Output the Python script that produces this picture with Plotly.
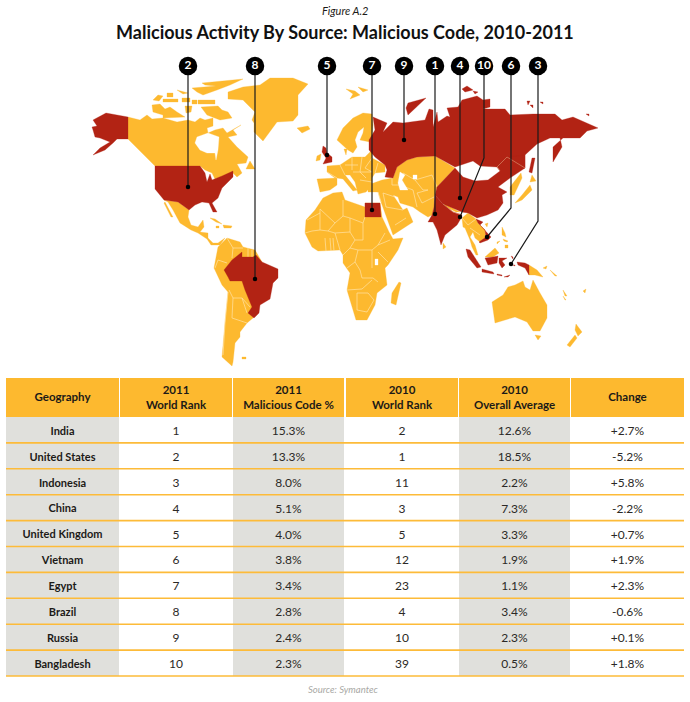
#!/usr/bin/env python3
"""Malicious activity by source: world map with numbered callouts over a ranking table."""

import plotly.graph_objects as go

# table data
GEOGRAPHY = ["India", "United States", "Indonesia", "China", "United Kingdom",
             "Vietnam", "Egypt", "Brazil", "Russia", "Bangladesh"]
RANK_2011 = ["1", "2", "3", "4", "5", "6", "7", "8", "9", "10"]
CODE_2011 = ["15.3%", "13.3%", "8.0%", "5.1%", "4.0%", "3.8%", "3.4%", "2.8%", "2.4%", "2.3%"]
RANK_2010 = ["2", "1", "11", "3", "5", "12", "23", "4", "10", "39"]
AVG_2010 = ["12.6%", "18.5%", "2.2%", "7.3%", "3.3%", "1.9%", "1.1%", "3.4%", "2.3%", "0.5%"]
CHANGE = ["+2.7%", "-5.2%", "+5.8%", "-2.2%", "+0.7%", "+1.9%", "+2.3%", "-0.6%", "+0.1%", "+1.8%"]
HEADERS = ["Geography", "2011<br>World Rank", "2011<br>Malicious Code %",
           "2010<br>World Rank", "2010<br>Overall Average", "Change"]

# callouts: label, then the path of the leader line
CALLOUT_LABELS = ["2", "8", "5", "7", "9", "1", "4", "10", "6", "3"]
CALLOUT_X = [[188, 188], [255, 255], [327, 327], [372, 372], [404, 404],
             [435, 435], [460, 460], [484, 484, 460], [511, 511, 487], [538, 538, 511]]
CALLOUT_Y = [[66, 187], [66, 279], [66, 155], [66, 210], [66, 140],
             [66, 214], [66, 198], [66, 158, 217], [66, 208, 237], [66, 221, 264]]

# map outlines, picture units
ALASKA = [(106, 113), (128, 117), (128, 139), (117, 139), (113, 143), (105, 150), (93, 155), (100, 148),
          (110, 142), (100, 138), (95, 137), (93, 130), (92, 127), (97, 126), (93, 120)]
CANADA = [(128, 117), (140, 120), (147, 115), (152, 119), (163, 118), (177, 122), (188, 120), (195, 122),
          (200, 118), (205, 120), (213, 118), (213, 126), (207, 128), (208, 133), (215, 130), (223, 128),
          (227, 133), (241, 125), (233, 130), (237, 135), (228, 137), (237, 147), (248, 157), (246, 163),
          (237, 164), (242, 173), (237, 177), (232, 172), (227, 175), (215, 179), (212, 173), (205, 170),
          (200, 166), (155, 166), (128, 139)]
HUDSON_BAY = [(197, 137), (208, 133), (219, 137), (218, 150), (216, 160), (215, 153), (207, 153), (200, 150), (195, 143)]
NEWFOUNDLAND = [(250, 161), (255, 169), (246, 169)]
ARCTIC_1 = [(153, 100), (158, 95), (163, 96), (159, 101)]
ARCTIC_2 = [(167, 93), (173, 93), (173, 97), (167, 97)]
ARCTIC_3 = [(163, 99), (178, 99), (178, 102), (163, 102)]
ARCTIC_4 = [(182, 98), (190, 98), (190, 102), (182, 102)]
ARCTIC_5 = [(192, 100), (197, 100), (197, 104), (192, 104)]
ARCTIC_6 = [(198, 100), (215, 100), (215, 104), (198, 104)]
ELLESMERE = [(202, 83), (243, 79), (230, 85), (217, 90), (203, 95), (197, 92), (192, 88), (216, 86), (205, 85)]
ARCTIC_7 = [(177, 90), (188, 93), (183, 94)]
VICTORIA = [(152, 105), (160, 104), (165, 109), (170, 107), (177, 112), (185, 117), (163, 118), (163, 115), (153, 112)]
ARCTIC_8 = [(185, 106), (192, 106), (191, 112), (186, 113)]
BAFFIN = [(201, 107), (218, 106), (222, 110), (228, 112), (232, 118), (220, 120), (207, 115)]
GREENLAND = [(270, 78), (293, 78), (308, 84), (298, 95), (298, 115), (293, 121), (277, 122), (263, 141),
             (254, 132), (254, 123), (252, 120), (255, 112), (243, 100), (228, 99), (228, 92), (243, 87), (260, 85)]
ICELAND = [(297, 128), (308, 126), (310, 129), (302, 133)]
UK = [(323, 146), (326, 148), (327, 153), (332, 157), (332, 162), (323, 164), (326, 158), (322, 152)]
IRELAND = [(317, 156), (321, 154), (320, 160), (316, 161)]
USA = [(155, 166), (200, 166), (205, 173), (207, 182), (210, 174), (212, 180), (222, 176), (233, 171), (233, 177),
       (222, 188), (218, 198), (212, 203), (217, 212), (213, 212), (209, 203), (202, 202), (195, 205), (189, 210),
       (185, 207), (178, 202), (164, 200), (155, 189)]
MEXICO = [(164, 200), (178, 202), (185, 207), (189, 210), (188, 217), (191, 225), (198, 227), (203, 220), (204, 227),
          (200, 232), (208, 233), (208, 238), (213, 243), (218, 243), (225, 238), (220, 245), (211, 245), (207, 239),
          (198, 233), (191, 230), (180, 223), (173, 210), (168, 202)]
BAJA = [(165, 202), (173, 217), (171, 217), (164, 203)]
CUBA = [(210, 218), (215, 219), (222, 224), (216, 222)]
HISPANIOLA = [(223, 225), (232, 226), (231, 228), (224, 228)]
JAMAICA = [(216, 226), (219, 226), (219, 228), (216, 228)]
SOUTH_AMERICA = [(227, 238), (240, 242), (243, 247), (255, 250), (262, 262), (262, 300), (253, 318), (247, 323),
                 (240, 332), (240, 337), (235, 343), (233, 362), (232, 366), (222, 357), (225, 323), (228, 292),
                 (222, 285), (214, 268), (218, 247)]
BRAZIL = [(242, 252), (242, 257), (253, 257), (256, 255), (262, 262), (278, 269), (278, 278), (273, 283), (270, 299),
          (260, 305), (259, 313), (254, 318), (248, 313), (252, 307), (245, 290), (242, 281), (230, 281), (228, 277),
          (224, 270), (232, 260)]
FALKLANDS = [(242, 357), (246, 357), (246, 359), (242, 359)]
AFRICA = [(342, 192), (345, 200), (365, 207), (365, 203), (380, 203), (382, 217), (389, 232), (393, 239), (403, 238),
          (398, 250), (388, 265), (385, 268), (387, 285), (377, 293), (375, 305), (367, 320), (356, 320), (347, 290),
          (350, 273), (343, 263), (343, 255), (340, 250), (318, 251), (312, 247), (305, 233), (306, 220), (315, 210),
          (323, 198), (333, 193)]
EGYPT = [(365, 203), (380, 203), (381, 217), (365, 217)]
LAKE_VICTORIA = [(375, 259), (378, 259), (378, 265), (375, 265)]
MADAGASCAR = [(399, 282), (401, 283), (396, 305), (391, 303), (392, 293)]
SCANDINAVIA = [(363, 113), (372, 114), (373, 125), (372, 135), (370, 142), (360, 140), (363, 133), (364, 127), (358, 132),
               (355, 140), (357, 147), (353, 153), (348, 150), (337, 140), (343, 128), (353, 118)]
DENMARK = [(344, 149), (347, 149), (346, 155)]
EUROPE = [(327, 166), (340, 165), (352, 157), (365, 157), (372, 150), (372, 158), (385, 165), (385, 172), (375, 173),
          (372, 178), (372, 185), (366, 192), (358, 194), (355, 182), (350, 175), (345, 175), (357, 190), (353, 191),
          (343, 179), (337, 178), (335, 178), (327, 172)]
SPAIN = [(317, 179), (337, 178), (337, 185), (330, 190), (320, 192)]
MIDDLE_EAST = [(368, 185), (382, 180), (393, 178), (397, 167), (407, 160), (417, 157), (435, 156), (455, 168), (437, 187),
               (434, 197), (434, 207), (432, 215), (428, 217), (420, 212), (413, 207), (400, 203), (398, 197), (393, 195),
               (403, 210), (407, 208), (413, 222), (393, 235), (381, 202), (378, 192), (368, 192)]
CASPIAN = [(400, 172), (405, 175), (402, 180), (408, 190), (400, 190), (398, 183)]
ARAL = [(413, 175), (417, 175), (417, 179), (413, 179)]
RUSSIA = [(373, 117), (387, 123), (383, 132), (393, 122), (403, 123), (425, 120), (429, 109), (433, 110), (433, 127),
          (437, 112), (438, 122), (447, 116), (450, 117), (447, 108), (458, 107), (462, 100), (477, 96), (483, 100),
          (490, 99), (490, 107), (483, 109), (505, 109), (510, 115), (533, 114), (555, 114), (562, 120), (573, 117),
          (598, 128), (587, 131), (580, 138), (563, 138), (553, 147), (553, 162), (562, 147), (560, 138), (550, 138),
          (537, 144), (525, 155), (525, 168), (510, 172), (497, 167), (480, 166), (473, 161), (455, 167), (435, 156),
          (417, 157), (407, 160), (397, 167), (393, 178), (385, 177), (387, 170), (385, 165), (375, 157), (369, 150),
          (369, 140), (375, 130)]
CHINA = [(435, 195), (437, 187), (455, 168), (463, 177), (475, 181), (488, 180), (500, 171), (497, 167), (507, 157),
         (525, 155), (525, 168), (522, 170), (510, 178), (498, 187), (507, 192), (502, 195), (503, 203), (498, 210),
         (487, 215), (477, 218), (468, 213), (462, 212), (443, 204)]
INDIA = [(435, 195), (442, 203), (453, 212), (462, 215), (460, 220), (457, 225), (445, 235), (441, 245), (437, 230),
         (433, 222), (428, 222), (432, 215), (434, 207)]
NEPAL = [(444, 203), (456, 210), (460, 212), (456, 212), (444, 206)]
KOREA = [(510, 187), (521, 173), (522, 178), (514, 195), (510, 195)]
HOKKAIDO = [(532, 175), (536, 181), (530, 182)]
HONSHU = [(530, 185), (532, 190), (522, 200), (515, 203), (522, 195)]
SAKHALIN = [(532, 158), (535, 158), (532, 173), (529, 172)]
NOVAYA_ZEMLYA = [(426, 98), (408, 115), (406, 108), (408, 103)]
SEVERNAYA_1 = [(462, 89), (467, 86), (473, 90), (465, 92)]
SEVERNAYA_2 = [(473, 91), (478, 92), (475, 94)]
SIBERIAN_1 = [(527, 101), (530, 101), (528, 105)]
SIBERIAN_2 = [(530, 105), (533, 105), (533, 108)]
SIBERIAN_3 = [(540, 102), (543, 102), (543, 104)]
WRANGEL = [(586, 114), (589, 114), (589, 116)]
SVALBARD_1 = [(346, 89), (355, 91), (360, 95), (350, 99), (353, 94)]
SVALBARD_2 = [(358, 87), (368, 90), (363, 92)]
INDOCHINA = [(462, 218), (468, 213), (476, 219), (478, 223), (485, 230), (486, 237), (480, 242), (475, 238), (473, 232),
             (470, 237), (475, 245), (478, 255), (476, 255), (472, 247), (470, 240), (465, 228), (463, 227)]
VIETNAM = [(476, 219), (483, 222), (480, 225), (491, 237), (488, 240), (480, 243), (479, 242), (486, 237), (485, 230), (478, 223)]
SUMATRA = [(466, 249), (470, 250), (481, 267), (477, 268), (468, 257)]
JAVA = [(482, 269), (493, 272), (494, 274), (482, 272)]
BORNEO = [(485, 258), (493, 257), (498, 256), (497, 263), (488, 265)]
SABAH = [(485, 257), (495, 248), (499, 253), (493, 257)]
SULAWESI = [(499, 258), (507, 258), (502, 261), (505, 265), (502, 268), (499, 263)]
BALI = [(497, 274), (502, 275), (502, 276), (497, 275)]
TIMOR = [(504, 277), (510, 275), (508, 277)]
MOLUCCAS_1 = [(511, 256), (513, 257), (513, 259)]
MOLUCCAS_2 = [(513, 265), (515, 265), (515, 266)]
PAPUA = [(517, 262), (525, 263), (529, 265), (529, 275), (525, 268), (518, 265)]
PNG = [(529, 265), (537, 270), (543, 277), (535, 275), (529, 275)]
LUZON = [(502, 227), (505, 233), (506, 237), (502, 235)]
VISAYAS = [(503, 239), (508, 241), (507, 242), (504, 241)]
MINDANAO = [(505, 245), (508, 245), (508, 248), (505, 248)]
PALAWAN = [(497, 242), (500, 241), (497, 244)]
TAIWAN = [(485, 224), (488, 223), (487, 227)]
SRI_LANKA = [(443, 243), (446, 247), (443, 249)]
AUSTRALIA = [(508, 287), (515, 285), (523, 281), (525, 287), (530, 290), (533, 280), (540, 293), (547, 305), (547, 318),
             (540, 331), (533, 331), (527, 322), (515, 317), (495, 323), (492, 302), (503, 295)]
TASMANIA = [(535, 335), (541, 336), (538, 340)]
NZ_NORTH = [(576, 324), (582, 332), (578, 336), (575, 330)]
NZ_SOUTH = [(575, 335), (577, 338), (570, 347), (567, 345)]
SOLOMON_1 = [(543, 268), (547, 266), (546, 269)]
SOLOMON_2 = [(550, 270), (557, 276), (555, 276)]
VANUATU = [(563, 290), (567, 296), (565, 296)]
FIJI = [(583, 291), (586, 289), (585, 293)]
CALEDONIA = [(563, 296), (566, 300), (565, 300)]

YELLOW_LAND = [CANADA, NEWFOUNDLAND, ARCTIC_1, ARCTIC_2, ARCTIC_3, ARCTIC_4, ARCTIC_5, ARCTIC_6, ELLESMERE, ARCTIC_7,
               VICTORIA, ARCTIC_8, BAFFIN, GREENLAND, ICELAND, IRELAND, MEXICO, BAJA, CUBA, HISPANIOLA, JAMAICA,
               SOUTH_AMERICA, FALKLANDS, AFRICA, MADAGASCAR, SCANDINAVIA, DENMARK, EUROPE, SPAIN, MIDDLE_EAST,
               NEPAL, KOREA, HOKKAIDO, HONSHU, SVALBARD_1, SVALBARD_2, INDOCHINA, SABAH, PNG, LUZON, VISAYAS,
               MINDANAO, PALAWAN, TAIWAN, SRI_LANKA, AUSTRALIA, TASMANIA, NZ_NORTH, NZ_SOUTH, SOLOMON_1, SOLOMON_2,
               VANUATU, FIJI, CALEDONIA]
RED_LAND = [ALASKA, USA, UK, BRAZIL, EGYPT, RUSSIA, CHINA, INDIA, SAKHALIN, NOVAYA_ZEMLYA, SEVERNAYA_1, SEVERNAYA_2,
            SIBERIAN_1, SIBERIAN_2, SIBERIAN_3, WRANGEL, VIETNAM, SUMATRA, JAVA, BORNEO, SULAWESI, BALI, TIMOR,
            MOLUCCAS_1, MOLUCCAS_2, PAPUA]
WATER = [HUDSON_BAY, LAKE_VICTORIA, CASPIAN, ARAL]

# country borders drawn as thin pale lines
BORDERS = [
    [(233, 248), (232, 258)], [(227, 238), (233, 248), (243, 248)], [(218, 260), (227, 263)], [(215, 268), (218, 260)],
    [(229, 290), (233, 298), (242, 298), (250, 307)], [(228, 292), (225, 323), (223, 355)], [(233, 298), (232, 318), (247, 323)],
    [(248, 248), (248, 257)], [(252, 250), (252, 257)], [(242, 298), (247, 313)],
    [(320, 209), (335, 223), (343, 216), (343, 200)], [(343, 216), (350, 218), (363, 223), (365, 217)],
    [(350, 218), (350, 232), (355, 240)], [(363, 223), (363, 240), (355, 240), (350, 248)],
    [(320, 209), (320, 213), (307, 220)], [(320, 213), (320, 230), (312, 231), (305, 233)], [(320, 230), (328, 231), (335, 223)],
    [(328, 231), (335, 233), (340, 250)], [(335, 233), (350, 232)], [(325, 238), (326, 251)], [(330, 238), (331, 251)], [(333, 238), (334, 251)],
    [(350, 248), (358, 250), (372, 250), (378, 245), (390, 240)], [(378, 245), (385, 233)], [(378, 252), (388, 262)],
    [(350, 248), (343, 255)], [(358, 250), (355, 262), (347, 268)], [(355, 262), (360, 270), (362, 278)], [(372, 250), (372, 268)],
    [(362, 278), (373, 278), (378, 282)], [(347, 290), (362, 289), (372, 280)], [(357, 293), (368, 293), (374, 300), (367, 312)],
    [(357, 293), (357, 310), (367, 312)],
    [(340, 165), (345, 175)], [(352, 157), (352, 170)], [(362, 157), (360, 172), (366, 178)], [(372, 158), (365, 168), (372, 172)],
    [(345, 165), (358, 165)], [(353, 172), (372, 172)], [(378, 163), (375, 173)], [(337, 178), (327, 172)], [(360, 180), (372, 182)],
    [(403, 173), (415, 180), (423, 190), (428, 190)], [(415, 180), (432, 175), (437, 187)], [(400, 185), (413, 190), (417, 207)],
    [(417, 193), (428, 190)], [(417, 193), (422, 203), (434, 197)], [(383, 193), (395, 197)], [(383, 193), (386, 207), (403, 210)],
    [(395, 225), (406, 218)], [(378, 192), (381, 202)], [(392, 178), (392, 185), (400, 185)],
    [(470, 228), (480, 235)], [(463, 212), (468, 213)], [(462, 218), (468, 225), (476, 219)],
]
# the same, but where both sides are red
RED_BORDERS = [
    [(500, 171), (497, 167), (507, 157), (525, 168)], [(443, 204), (453, 212), (462, 215)],
]

COLUMN_LEFT = [6, 120, 233, 346, 459, 571]
COLUMN_RIGHT = [119, 232, 344, 458, 570, 684]
TABLE_TOP = 378
HEADER_BOTTOM = 417
ROW_HEIGHT = 25.9
TEXT_DROP = 2

ORANGE = "#fdb92f"
RED = "#b22314"
GREY = "#e0e0dc"
INK = "#1c1a17"
TEXT_FONT = "Lato"


def add_polygons(figure, outlines, color):
    # one trace per outline so overlapping land never cancels out in the fill
    for outline in outlines:
        figure.add_trace(go.Scatter(x=[p[0] for p in outline] + [outline[0][0]],
                                    y=[p[1] for p in outline] + [outline[0][1]],
                                    mode="lines", fill="toself", fillcolor=color,
                                    line={"width": 0.3, "color": color, "simplify": False}, hoverinfo="skip"))


def add_borders(figure, lines, color):
    xs, ys = [], []
    for line in lines:
        xs += [p[0] for p in line] + [None]
        ys += [p[1] for p in line] + [None]
    figure.add_trace(go.Scatter(x=xs, y=ys, mode="lines", line={"width": 0.7, "color": color, "simplify": False}, hoverinfo="skip"))


fig = go.Figure()
add_polygons(fig, YELLOW_LAND, ORANGE)
add_borders(fig, BORDERS, "#ffe3a6")
add_polygons(fig, WATER, "white")
add_polygons(fig, RED_LAND, RED)
add_borders(fig, RED_BORDERS, "#d98a6a")

# leader lines, end dots and numbered badges
for path_x, path_y in zip(CALLOUT_X, CALLOUT_Y):
    fig.add_trace(go.Scatter(x=path_x, y=path_y, mode="lines", line={"width": 1.2, "color": "#1a1a1a"}, hoverinfo="skip"))
fig.add_trace(go.Scatter(x=[p[-1] for p in CALLOUT_X], y=[p[-1] for p in CALLOUT_Y], mode="markers",
                         marker={"size": 4.5, "color": "black"}, hoverinfo="skip"))
fig.add_trace(go.Scatter(x=[p[0] for p in CALLOUT_X], y=[p[0] for p in CALLOUT_Y], mode="markers+text",
                         marker={"size": 18.5, "color": "black"}, text=[f"<b>{label}</b>" for label in CALLOUT_LABELS],
                         textposition="middle center", textfont={"family": TEXT_FONT, "size": 12, "color": "white"},
                         hoverinfo="skip"))

# table backgrounds
shapes = []
row_tops = [HEADER_BOTTOM + ROW_HEIGHT * i for i in range(len(GEOGRAPHY) + 1)]
for left, right in zip(COLUMN_LEFT, COLUMN_RIGHT):
    shapes.append({"type": "rect", "layer": "below", "x0": left, "x1": right, "y0": TABLE_TOP, "y1": HEADER_BOTTOM,
                   "fillcolor": ORANGE, "line": {"width": 0}})
for col in (0, 2, 4):
    shapes.append({"type": "rect", "layer": "below", "x0": COLUMN_LEFT[col], "x1": COLUMN_RIGHT[col], "y0": HEADER_BOTTOM, "y1": row_tops[-1],
                   "fillcolor": GREY, "line": {"width": 0}})
for y in row_tops[1:]:
    shapes.append({"type": "line", "layer": "below", "x0": COLUMN_LEFT[0], "x1": COLUMN_RIGHT[-1], "y0": y, "y1": y,
                   "line": {"width": 1.6, "color": "#fdbb39"}})

# table text
column_centers = [(left + right) / 2 for left, right in zip(COLUMN_LEFT, COLUMN_RIGHT)]
row_centers = [y + ROW_HEIGHT / 2 + TEXT_DROP for y in row_tops[:-1]]
fig.add_trace(go.Scatter(x=column_centers, y=[(TABLE_TOP + HEADER_BOTTOM) / 2 + 1] * 6, mode="text",
                         text=[f"<b>{h}</b>".replace("<br>", "</b><br><b>") for h in HEADERS],
                         textfont={"family": TEXT_FONT, "size": 11.5, "color": INK}, hoverinfo="skip"))
fig.add_trace(go.Scatter(x=[column_centers[0]] * len(GEOGRAPHY), y=row_centers, mode="text",
                         text=[f"<b>{g}</b>" for g in GEOGRAPHY],
                         textfont={"family": TEXT_FONT, "size": 11, "color": INK}, hoverinfo="skip"))
for col, values in enumerate([RANK_2011, CODE_2011, RANK_2010, AVG_2010, CHANGE], start=1):
    fig.add_trace(go.Scatter(x=[column_centers[col]] * len(values), y=row_centers, mode="text", text=values,
                             textfont={"family": TEXT_FONT, "size": 12, "color": "#2b2926"}, hoverinfo="skip"))

annotations = [
    {"x": 345, "y": 10, "text": "<i>Figure A.2</i>", "font": {"family": TEXT_FONT, "size": 11, "color": INK}},
    {"x": 345, "y": 32, "text": "<b>Malicious Activity By Source: Malicious Code, 2010-2011</b>",
     "font": {"family": TEXT_FONT, "size": 18, "color": "#111111"}},
    {"x": 343, "y": 689, "text": "<i>Source: Symantec</i>", "font": {"family": TEXT_FONT, "size": 9.5, "color": "#a8a8a4"}},
]
for note in annotations:
    note.update(xref="x", yref="y", showarrow=False, xanchor="center", yanchor="middle")

fig.update_layout(
    width=690,
    height=702,
    margin={"l": 0, "r": 0, "t": 0, "b": 0},
    paper_bgcolor="white",
    plot_bgcolor="white",
    showlegend=False,
    shapes=shapes,
    annotations=annotations,
    xaxis={"range": [0, 690], "visible": False, "fixedrange": True},
    yaxis={"range": [702, 0], "visible": False, "fixedrange": True},
)

# the page's default body margin would push the chart 8px in
fig.write_html("out.html", config={"displayModeBar": False},
               post_script="document.body.style.margin='0';document.documentElement.style.overflow='hidden';")
